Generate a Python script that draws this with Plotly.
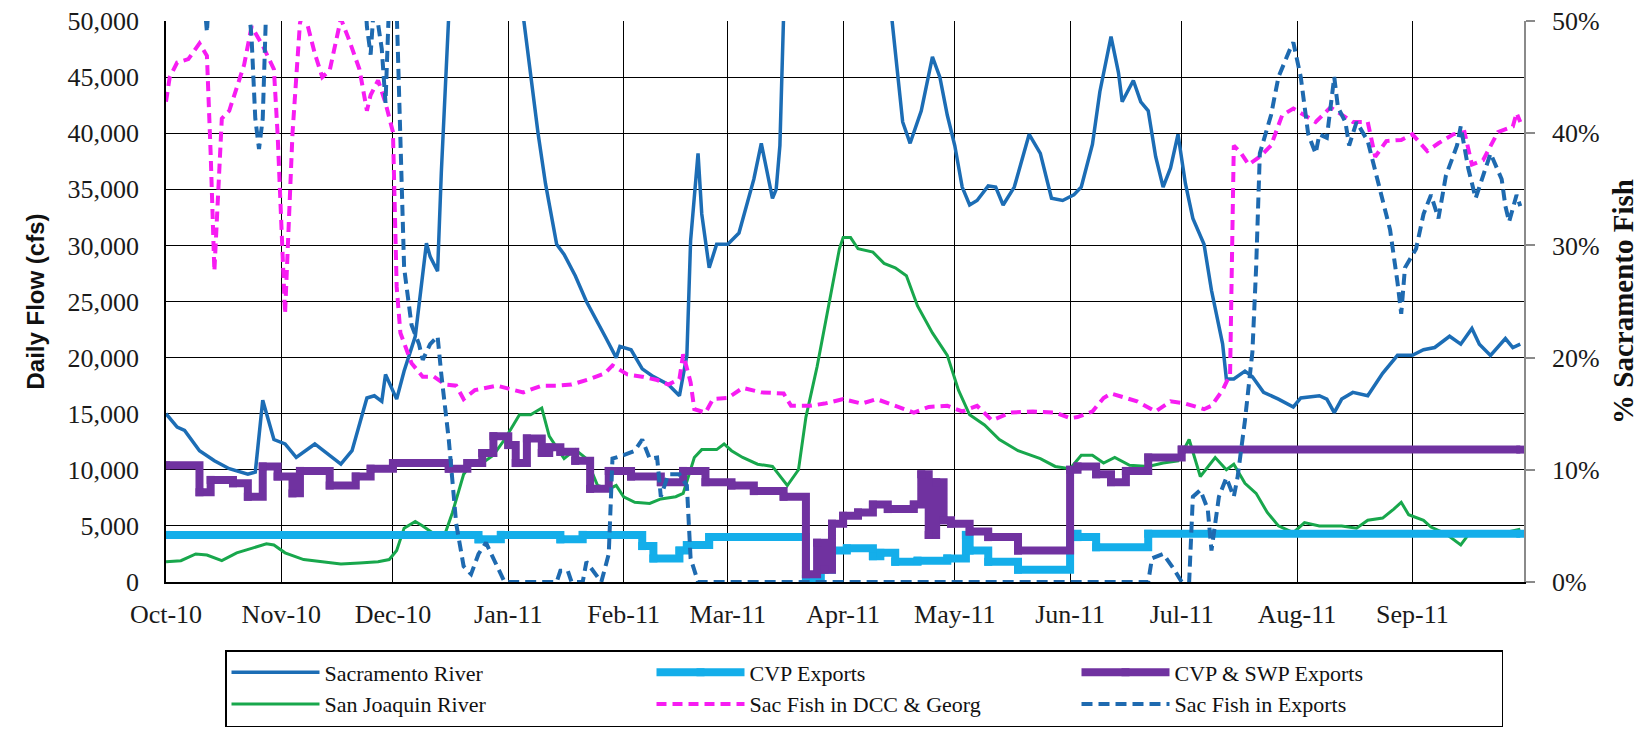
import plotly.graph_objects as go

# ---------------- data ----------------
month_ticks = ["2010-10-01", "2010-11-01", "2010-12-01", "2011-01-01", "2011-02-01", "2011-03-01",
               "2011-04-01", "2011-05-01", "2011-06-01", "2011-07-01", "2011-08-01", "2011-09-01"]
month_labels = ["Oct-10", "Nov-10", "Dec-10", "Jan-11", "Feb-11", "Mar-11",
                "Apr-11", "May-11", "Jun-11", "Jul-11", "Aug-11", "Sep-11"]

sac_dates = ["2010-10-01", "2010-10-04", "2010-10-06", "2010-10-10", "2010-10-14", "2010-10-18", "2010-10-23",
             "2010-10-25", "2010-10-27", "2010-10-30", "2010-11-02", "2010-11-05", "2010-11-10", "2010-11-17",
             "2010-11-20", "2010-11-24", "2010-11-26", "2010-11-28", "2010-11-29", "2010-12-02", "2010-12-04",
             "2010-12-07", "2010-12-10", "2010-12-11", "2010-12-13", "2010-12-14", "2010-12-16", "2010-12-19",
             "2010-12-26", "2011-01-02", "2011-01-05", "2011-01-09", "2011-01-11", "2011-01-14", "2011-01-16",
             "2011-01-19", "2011-01-22", "2011-01-25", "2011-01-27", "2011-01-30", "2011-01-31", "2011-02-03",
             "2011-02-06", "2011-02-09", "2011-02-13", "2011-02-16", "2011-02-18", "2011-02-19", "2011-02-21",
             "2011-02-22", "2011-02-24", "2011-02-26", "2011-03-01", "2011-03-04", "2011-03-06", "2011-03-08",
             "2011-03-10", "2011-03-13", "2011-03-14", "2011-03-15", "2011-03-16", "2011-03-20", "2011-03-27",
             "2011-04-03", "2011-04-10", "2011-04-14", "2011-04-17", "2011-04-19", "2011-04-22", "2011-04-25",
             "2011-04-27", "2011-04-29", "2011-05-01", "2011-05-03", "2011-05-05", "2011-05-07", "2011-05-10",
             "2011-05-12", "2011-05-14", "2011-05-17", "2011-05-21", "2011-05-24", "2011-05-27", "2011-05-30",
             "2011-06-02", "2011-06-04", "2011-06-07", "2011-06-09", "2011-06-12", "2011-06-14", "2011-06-15",
             "2011-06-18", "2011-06-20", "2011-06-22", "2011-06-24", "2011-06-26", "2011-06-28", "2011-06-30",
             "2011-07-02", "2011-07-04", "2011-07-07", "2011-07-09", "2011-07-12", "2011-07-13", "2011-07-15",
             "2011-07-18", "2011-07-20", "2011-07-23", "2011-07-27", "2011-07-31", "2011-08-02", "2011-08-07",
             "2011-08-09", "2011-08-11", "2011-08-13", "2011-08-16", "2011-08-20", "2011-08-24", "2011-08-28",
             "2011-09-01", "2011-09-04", "2011-09-07", "2011-09-11", "2011-09-14", "2011-09-17", "2011-09-19",
             "2011-09-22", "2011-09-26", "2011-09-28", "2011-09-30"]
sac_flow = [15000, 13800, 13500, 11700, 10800, 10100, 9600,
            9800, 16200, 12700, 12300, 11100, 12300, 10500,
            11700, 16400, 16600, 16100, 18500, 16300, 18800,
            21900, 30200, 29000, 27700, 36500, 50500, 68000,
            62000, 56000, 50500, 40000, 35500, 30100, 29200,
            27300, 25000, 23200, 21900, 20000, 21000, 20700,
            19000, 18300, 17600, 16600, 20200, 30400, 38200,
            32800, 28000, 30100, 30100, 31100, 33600, 35900,
            39100, 34200, 35000, 38900, 50500, 72000, 68000,
            62000, 55000, 50500, 41000, 39100, 42000, 46800,
            45000, 41600, 38900, 35200, 33600, 34000, 35300,
            35200, 33600, 35200, 39900, 38200, 34200, 34000,
            34500, 35200, 39000, 43700, 48600, 45400, 42800,
            44700, 42800, 42000, 37900, 35200, 36900, 39900,
            35500, 32400, 30100, 26000, 21200, 18100, 18100,
            18800, 18300, 16900, 16300, 15600, 16400, 16600,
            16300, 15100, 16300, 16900, 16600, 18600, 20200,
            20200, 20700, 20900, 21900, 21200, 22600, 21200,
            20200, 21700, 20900, 21200]

sjr_dates = ["2010-10-01", "2010-10-05", "2010-10-09", "2010-10-12", "2010-10-16", "2010-10-20", "2010-10-24",
             "2010-10-28", "2010-10-30", "2010-11-02", "2010-11-07", "2010-11-12", "2010-11-17", "2010-11-22",
             "2010-11-27", "2010-11-30", "2010-12-02", "2010-12-04", "2010-12-07", "2010-12-09", "2010-12-12",
             "2010-12-15", "2010-12-17", "2010-12-20", "2010-12-22", "2010-12-25", "2010-12-28", "2010-12-31",
             "2011-01-04", "2011-01-07", "2011-01-10", "2011-01-12", "2011-01-16", "2011-01-19", "2011-01-22",
             "2011-01-25", "2011-01-28", "2011-01-30", "2011-02-01", "2011-02-04", "2011-02-08", "2011-02-11",
             "2011-02-15", "2011-02-17", "2011-02-20", "2011-02-22", "2011-02-26", "2011-02-28", "2011-03-02",
             "2011-03-05", "2011-03-09", "2011-03-13", "2011-03-17", "2011-03-20", "2011-03-22", "2011-03-25",
             "2011-03-28", "2011-03-31", "2011-04-01", "2011-04-03", "2011-04-05", "2011-04-09", "2011-04-12",
             "2011-04-15", "2011-04-18", "2011-04-21", "2011-04-25", "2011-04-29", "2011-05-02", "2011-05-05",
             "2011-05-09", "2011-05-13", "2011-05-18", "2011-05-24", "2011-05-28", "2011-06-01", "2011-06-04",
             "2011-06-07", "2011-06-10", "2011-06-13", "2011-06-17", "2011-06-22", "2011-06-26", "2011-06-30",
             "2011-07-03", "2011-07-06", "2011-07-10", "2011-07-13", "2011-07-15", "2011-07-18", "2011-07-21",
             "2011-07-24", "2011-07-27", "2011-07-31", "2011-08-03", "2011-08-07", "2011-08-13", "2011-08-17",
             "2011-08-20", "2011-08-24", "2011-08-27", "2011-08-29", "2011-08-31", "2011-09-04", "2011-09-06",
             "2011-09-10", "2011-09-14", "2011-09-16", "2011-09-23", "2011-09-27", "2011-09-30"]
sjr_flow = [1800, 1900, 2500, 2400, 1900, 2600, 3000,
            3400, 3300, 2600, 2000, 1800, 1600, 1700,
            1800, 2000, 2800, 4800, 5400, 5000, 4300,
            4300, 6200, 9600, 10500, 10600, 11300, 12700,
            14900, 14900, 15500, 13000, 11000, 11800, 11000,
            8600, 8300, 8600, 7600, 7100, 7000, 7400,
            7600, 7900, 11100, 11800, 11800, 12300, 11700,
            11100, 10500, 10300, 8600, 10000, 14700, 19200,
            24600, 29700, 30700, 30700, 29700, 29400, 28400,
            28000, 27300, 24600, 22200, 20200, 17100, 14900,
            14000, 12700, 11700, 11000, 10300, 10100, 11300,
            11300, 10600, 11100, 10400, 10300, 10600, 10800,
            12700, 9400, 11100, 10000, 10500, 8800, 7900,
            6200, 5000, 4400, 5300, 5000, 5000, 4800,
            5500, 5700, 6500, 7100, 6000, 5500, 4900,
            4300, 3300, 4200, 4200, 4500, 4700]

cvp_dates = ["2010-10-01", "2010-12-24", "2010-12-30", "2011-01-15", "2011-01-21", "2011-02-06", "2011-02-09",
             "2011-02-16", "2011-02-18", "2011-02-24", "2011-03-22", "2011-03-26", "2011-03-29", "2011-04-02",
             "2011-04-09", "2011-04-11", "2011-04-15", "2011-04-21", "2011-04-29", "2011-05-04", "2011-05-05",
             "2011-05-10", "2011-05-18", "2011-06-01", "2011-06-03", "2011-06-08", "2011-06-22", "2011-09-30"]
cvp_flow = [4200, 3800, 4200, 3800, 4200, 3200, 2100,
            2800, 3300, 4000, 300, 1100, 2800, 3000,
            2300, 2600, 1800, 1900, 2100, 4200, 2800,
            1800, 1100, 4300, 4000, 3100, 4300, 4300]

cvpswp_dates = ["2010-10-01", "2010-10-10", "2010-10-13", "2010-10-19", "2010-10-23", "2010-10-27", "2010-10-31",
                "2010-11-04", "2010-11-06", "2010-11-14", "2010-11-21", "2010-11-25", "2010-12-01", "2010-12-16",
                "2010-12-21", "2010-12-25", "2010-12-28", "2011-01-01", "2011-01-03", "2011-01-06", "2011-01-10",
                "2011-01-12", "2011-01-15", "2011-01-19", "2011-01-23", "2011-01-28", "2011-02-03", "2011-02-11",
                "2011-02-17", "2011-02-23", "2011-03-02", "2011-03-08", "2011-03-16", "2011-03-22", "2011-03-25",
                "2011-03-27", "2011-03-29", "2011-04-01", "2011-04-05", "2011-04-09", "2011-04-13", "2011-04-20",
                "2011-04-22", "2011-04-24", "2011-04-26", "2011-04-28", "2011-04-30", "2011-05-05", "2011-05-10",
                "2011-05-18", "2011-06-01", "2011-06-03", "2011-06-08", "2011-06-12", "2011-06-16", "2011-06-22",
                "2011-07-01", "2011-09-30"]
cvpswp_flow = [10400, 8000, 9100, 8800, 7600, 10300, 9400,
               7900, 9900, 8600, 9400, 10100, 10600, 10100,
               10600, 11500, 13000, 12200, 10600, 12800, 11500,
               12000, 11600, 10800, 8300, 9900, 9400, 8900,
               9900, 8900, 8600, 8100, 7600, 700, 3500,
               1100, 5200, 5900, 6200, 6900, 6500, 6900,
               9600, 4200, 8900, 5500, 5200, 4500, 4000,
               2800, 10000, 10300, 9600, 8900, 9900, 11100,
               11800, 11800]

dcc_dates = ["2010-10-01", "2010-10-02", "2010-10-04", "2010-10-07", "2010-10-10", "2010-10-12", "2010-10-13",
             "2010-10-14", "2010-10-16", "2010-10-18", "2010-10-22", "2010-10-24", "2010-10-27", "2010-10-30",
             "2010-10-31", "2010-11-02", "2010-11-04", "2010-11-06", "2010-11-07", "2010-11-10", "2010-11-12",
             "2010-11-14", "2010-11-17", "2010-11-19", "2010-11-22", "2010-11-24", "2010-11-25", "2010-11-27",
             "2010-11-29", "2010-12-01", "2010-12-02", "2010-12-03", "2010-12-06", "2010-12-09", "2010-12-12",
             "2010-12-15", "2010-12-18", "2010-12-20", "2010-12-23", "2010-12-29", "2011-01-05", "2011-01-10",
             "2011-01-14", "2011-01-18", "2011-01-23", "2011-01-27", "2011-01-29", "2011-02-02", "2011-02-06",
             "2011-02-10", "2011-02-13", "2011-02-16", "2011-02-17", "2011-02-19", "2011-02-20", "2011-02-23",
             "2011-02-25", "2011-03-01", "2011-03-05", "2011-03-10", "2011-03-16", "2011-03-18", "2011-03-23",
             "2011-03-27", "2011-04-01", "2011-04-06", "2011-04-10", "2011-04-15", "2011-04-20", "2011-04-24",
             "2011-04-29", "2011-05-03", "2011-05-07", "2011-05-11", "2011-05-16", "2011-05-22", "2011-05-28",
             "2011-06-01", "2011-06-03", "2011-06-07", "2011-06-10", "2011-06-12", "2011-06-16", "2011-06-19",
             "2011-06-24", "2011-06-28", "2011-07-02", "2011-07-07", "2011-07-09", "2011-07-12", "2011-07-14",
             "2011-07-15", "2011-07-17", "2011-07-19", "2011-07-22", "2011-07-25", "2011-07-28", "2011-07-31",
             "2011-08-03", "2011-08-06", "2011-08-10", "2011-08-13", "2011-08-16", "2011-08-20", "2011-08-22",
             "2011-08-25", "2011-08-29", "2011-09-01", "2011-09-05", "2011-09-08", "2011-09-12", "2011-09-15",
             "2011-09-17", "2011-09-20", "2011-09-22", "2011-09-24", "2011-09-28", "2011-09-29", "2011-09-30"]
dcc_pct = [42.8, 45.0, 46.3, 46.6, 48.0, 46.9, 38.2,
           27.7, 41.3, 42.0, 46.1, 49.5, 47.8, 45.7,
           39.9, 23.9, 40.0, 49.8, 51.0, 47.1, 45.0,
           45.6, 50.2, 48.5, 45.7, 42.0, 43.4, 44.7,
           42.7, 40.1, 26.3, 22.2, 19.5, 18.3, 18.3,
           17.6, 17.5, 16.3, 17.1, 17.5, 16.9, 17.5,
           17.5, 17.6, 18.1, 18.6, 19.3, 18.5, 18.3,
           18.0, 17.6, 18.1, 20.3, 17.8, 15.4, 15.1,
           16.3, 16.4, 17.3, 16.9, 16.8, 15.7, 15.7,
           15.9, 16.3, 15.9, 16.3, 15.7, 15.1, 15.6,
           15.7, 15.2, 15.7, 14.4, 15.1, 15.2, 15.1,
           14.6, 14.7, 15.2, 16.4, 16.8, 16.4, 16.1,
           15.2, 16.1, 15.9, 15.4, 15.7, 17.1, 18.5,
           38.9, 38.2, 37.2, 37.9, 38.9, 41.6, 42.2,
           41.6, 41.0, 42.3, 41.6, 41.0, 41.0, 37.9,
           39.3, 39.4, 39.9, 38.4, 39.1, 39.9, 40.1,
           37.2, 37.6, 38.9, 40.1, 40.6, 41.8, 41.0]

exp_dates = ["2010-10-01", "2010-10-11", "2010-10-12", "2010-10-13", "2010-10-22", "2010-10-24", "2010-10-25",
             "2010-10-26", "2010-10-27", "2010-10-28", "2010-11-10", "2010-11-23", "2010-11-24", "2010-11-25",
             "2010-11-26", "2010-11-28", "2010-11-29", "2010-11-30", "2010-12-02", "2010-12-03", "2010-12-04",
             "2010-12-06", "2010-12-08", "2010-12-09", "2010-12-11", "2010-12-13", "2010-12-14", "2010-12-16",
             "2010-12-18", "2010-12-20", "2010-12-22", "2010-12-24", "2010-12-26", "2010-12-29", "2010-12-31",
             "2011-01-14", "2011-01-15", "2011-01-17", "2011-01-18", "2011-01-21", "2011-01-22", "2011-01-26",
             "2011-01-28", "2011-01-29", "2011-02-01", "2011-02-04", "2011-02-06", "2011-02-08", "2011-02-10",
             "2011-02-11", "2011-02-13", "2011-02-16", "2011-02-18", "2011-02-19", "2011-02-21", "2011-06-22",
             "2011-06-23", "2011-06-26", "2011-06-29", "2011-07-01", "2011-07-03", "2011-07-04", "2011-07-06",
             "2011-07-08", "2011-07-09", "2011-07-11", "2011-07-13", "2011-07-15", "2011-07-16", "2011-07-18",
             "2011-07-20", "2011-07-21", "2011-07-22", "2011-07-25", "2011-07-27", "2011-07-30", "2011-07-31",
             "2011-08-02", "2011-08-04", "2011-08-06", "2011-08-07", "2011-08-09", "2011-08-11", "2011-08-12",
             "2011-08-14", "2011-08-15", "2011-08-17", "2011-08-20", "2011-08-23", "2011-08-26", "2011-08-28",
             "2011-08-29", "2011-08-30", "2011-09-02", "2011-09-04", "2011-09-06", "2011-09-08", "2011-09-10",
             "2011-09-13", "2011-09-14", "2011-09-16", "2011-09-18", "2011-09-20", "2011-09-22", "2011-09-25",
             "2011-09-26", "2011-09-27", "2011-09-29", "2011-09-30"]
exp_pct = [60, 53, 49, 55, 56, 48.5, 41.3,
           38.6, 41.3, 52, 62, 55, 49.5, 47,
           52, 47.5, 42.7, 52, 51, 38, 28,
           22.9, 21.2, 19.8, 21.2, 21.9, 18.5, 12.7,
           5.2, 1.4, 0.7, 2.5, 3.5, 1.4, 0,
           0, 1.0, 1.0, 0, 0, 1.8, 0,
           2.5, 11.0, 11.3, 11.7, 12.7, 11.0, 11.1,
           7.6, 9.6, 9.6, 8.6, 2.1, 0, 0,
           2.1, 2.5, 1.1, 0, 0, 7.6, 8.2,
           6.5, 2.8, 7.6, 9.3, 7.6, 9.3, 14.4,
           20.5, 28.0, 38.2, 41.6, 45.0, 47.4, 48.1,
           45.0, 39.9, 38.2, 39.9, 39.6, 45.0, 42.3,
           41.0, 38.9, 41.0, 39.3, 35.5, 31.4, 26.7,
           23.9, 28.0, 29.7, 32.8, 34.5, 32.4, 36.2,
           38.9, 40.6, 36.9, 34.2, 36.2, 38.2, 35.9,
           33.5, 32.1, 34.5, 33.5]

# ---------------- styles ----------------
C_SAC = "#1C6DB5"
C_SJR = "#18A74C"
C_CVP = "#14AEEA"
C_SWP = "#7032A0"
C_DCC = "#F71CF2"
C_EXP = "#1E6AB0"
SERIF = "Liberation Serif"

fig = go.Figure()
fig.add_trace(go.Scatter(x=sac_dates, y=sac_flow, name="Sacramento River", mode="lines",
                         line=dict(color=C_SAC, width=3.5), legendrank=1))
fig.add_trace(go.Scatter(x=sjr_dates, y=sjr_flow, name="San Joaquin River", mode="lines",
                         line=dict(color=C_SJR, width=3), legendrank=4))
fig.add_trace(go.Scatter(x=cvp_dates, y=cvp_flow, name="CVP Exports", mode="lines+markers",
                         line=dict(color=C_CVP, width=8, shape="hv"),
                         marker=dict(symbol="square", size=8, color=C_CVP), legendrank=2))
fig.add_trace(go.Scatter(x=cvpswp_dates, y=cvpswp_flow, name="CVP & SWP Exports", mode="lines+markers",
                         line=dict(color=C_SWP, width=8, shape="hv"),
                         marker=dict(symbol="square", size=8, color=C_SWP), legendrank=3))
fig.add_trace(go.Scatter(x=dcc_dates, y=dcc_pct, name="Sac Fish in DCC & Georg", mode="lines", yaxis="y2",
                         line=dict(color=C_DCC, width=4, dash="10px,6px"), legendrank=5))
fig.add_trace(go.Scatter(x=exp_dates, y=exp_pct, name="Sac Fish in Exports", mode="lines", yaxis="y2",
                         line=dict(color=C_EXP, width=4, dash="11px,6px"), legendrank=6))

fig.update_layout(
    width=1646, height=729,
    margin=dict(l=166, r=122, t=21, b=147, pad=0, autoexpand=False),
    paper_bgcolor="white", plot_bgcolor="white",
    font=dict(family=SERIF, size=26, color="#1a1a1a"),
    showlegend=True,
    legend=dict(orientation="h", x=(225 - 166) / 1358, xanchor="left", y=(582 - 650) / 561, yanchor="top",
                entrywidth=322, entrywidthmode="pixels", itemwidth=88,
                bordercolor="#000000", borderwidth=1.5, bgcolor="white",
                font=dict(family=SERIF, size=22, color="#111111"), traceorder="normal"),
    xaxis=dict(type="date", range=["2010-10-01", "2011-10-01"],
               tickmode="array", tickvals=month_ticks, ticktext=month_labels,
               showgrid=True, gridcolor="#000000", gridwidth=1,
               showline=True, linecolor="#000000", linewidth=1.5,
               ticks="", ticklabelstandoff=8, tickfont=dict(family=SERIF, size=26, color="#1a1a1a"),
               zeroline=False),
    yaxis=dict(range=[0, 50000], dtick=5000, tickformat=",d",
               showgrid=True, gridcolor="#000000", gridwidth=1,
               showline=True, linecolor="#000000", linewidth=1.5,
               ticks="", ticklabelstandoff=20, zeroline=False,
               tickfont=dict(family=SERIF, size=26, color="#1a1a1a"),
               title=dict(text="Daily Flow (cfs)", standoff=16,
                          font=dict(family="Liberation Sans", size=24, color="#111111",
                                    weight="bold"))),
    yaxis2=dict(range=[0, 50], dtick=10, ticksuffix="%", overlaying="y", side="right",
                showgrid=False, zeroline=False,
                showline=True, linecolor="#8a8a8a", linewidth=1.5,
                ticks="outside", ticklen=9, tickcolor="#8a8a8a", tickwidth=1.5,
                ticklabelstandoff=12,
                tickfont=dict(family=SERIF, size=26, color="#1a1a1a"),
                title=dict(text="% Sacramento Fish", standoff=14,
                           font=dict(family=SERIF, size=29, color="#111111", weight="bold"))),
)

fig.write_html("out.html")
